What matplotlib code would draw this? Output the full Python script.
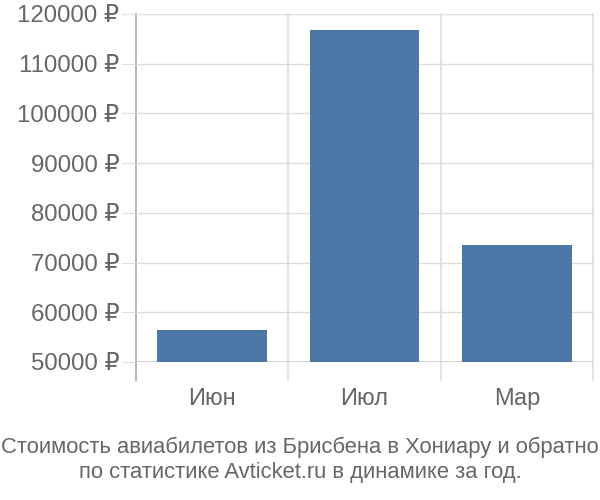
import numpy as np
import matplotlib
matplotlib.use("Agg")
import matplotlib.pyplot as plt

months = ["Июн", "Июл", "Мар"]
prices = [56400, 116700, 73500]
yticks = [50000, 60000, 70000, 80000, 90000, 100000, 110000, 120000]
caption = "Стоимость авиабилетов из Брисбена в Хониару и обратно\nпо статистике Avticket.ru в динамике за год."

plt.rcParams['font.family'] = ['Liberation Sans', 'DejaVu Sans']

fig = plt.figure(figsize=(6, 5), dpi=100)
ax = fig.add_axes([136/600, 1 - 362/500, (593 - 136)/600, (362 - 14)/500])

x = np.arange(len(months))
ax.bar(x, np.array(prices) - 50000, bottom=50000, width=0.72, color="#4c78a8", zorder=3)

ax.set_xlim(-0.5, len(months) - 0.5)
ax.set_ylim(50000, 120000)
ax.set_yticks(yticks)
ax.set_yticklabels([f"{v} ₽" for v in yticks], fontsize=17.3, color="#666666")
ax.set_xticks(x)
ax.set_xticklabels(months, fontsize=17, color="#666666")
ax.tick_params(axis="x", length=0, pad=19)
ax.tick_params(axis="y", length=10, color="#dddddd", pad=2)

ax.grid(axis="y", color="#dddddd", linewidth=1, zorder=0)
for b in np.arange(-0.5, len(months), 1.0):
    c = "#aaaaaa" if b == -0.5 else "#dddddd"
    ax.plot([b, b], [-0.052, 1], transform=ax.get_xaxis_transform(), color=c,
            linewidth=1.2, clip_on=False, zorder=1)

for s in ax.spines.values():
    s.set_visible(False)
ax.axhline(50000, color="#cccccc", linewidth=1.2, zorder=2)

fig.text(0.5, 1 - 460/500, caption, ha="center", va="center", fontsize=15.8,
         color="#666666", linespacing=1.22)

fig.savefig("out.png", dpi=100)
